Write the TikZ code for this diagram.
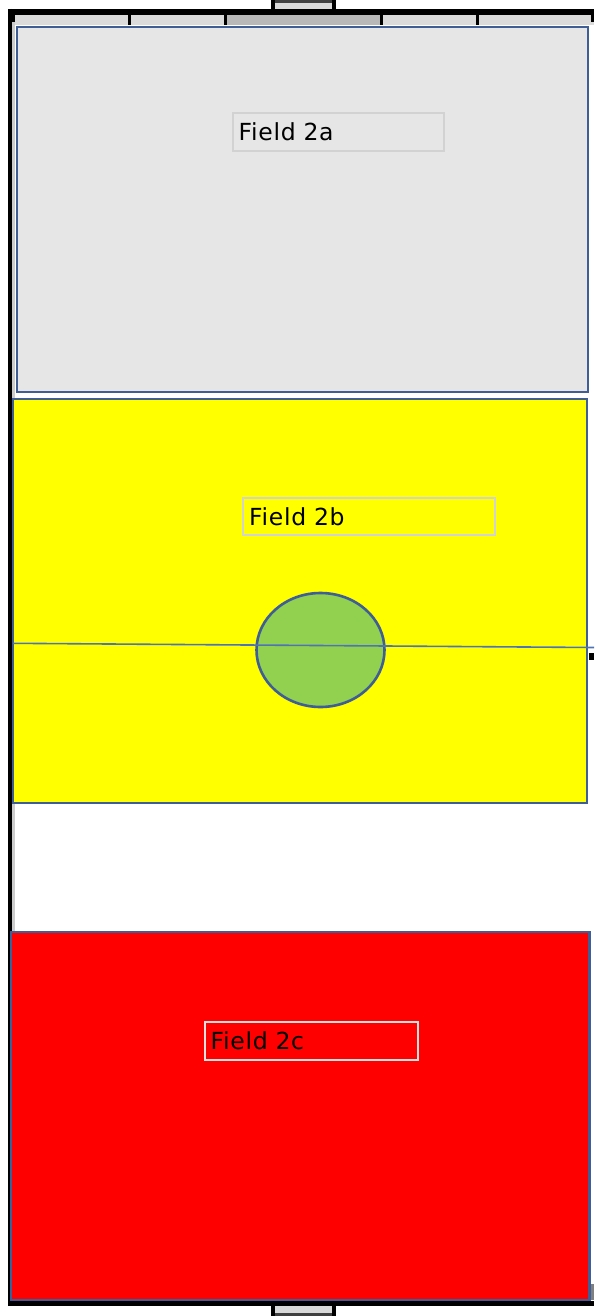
\documentclass[tikz,border=0pt]{standalone}
\usepackage{fontspec}
\setmainfont{DejaVu Sans}
\newfontfamily\labelfont[LetterSpace=3.0]{DejaVu Sans}

\definecolor{fieldblue}{HTML}{3F5E96}
\definecolor{fieldgray}{HTML}{E6E6E6}
\definecolor{fieldyellow}{HTML}{FFFF00}
\definecolor{fieldred}{HTML}{FF0000}
\definecolor{centergreen}{HTML}{92D050}
\definecolor{lineblue}{HTML}{4F74B5}
\definecolor{goalgray}{HTML}{D9D9D9}
\definecolor{labelgray}{HTML}{D2D2D2}

\tikzset{
  field/.style={draw=fieldblue, line width=2.6pt},
  labelbox/.style={line width=2.4pt, anchor=north west, inner xsep=6pt,
    minimum height=38pt, align=left, font=\labelfont\fontsize{23.5}{26}\selectfont},
  tick/.style={line width=3.5pt}
}

\begin{document}
\begin{tikzpicture}[x=1pt,y=-1pt]
			\useasboundingbox (0,0) rectangle (594,1316);
			
			% Goals
			\fill[goalgray] (273,0) rectangle (334,9);
			\fill[black!75] (273,0) rectangle (334,3);
			\draw[line width=3.5pt] (273,0) -- (273,10) (334,0) -- (334,10);
			\fill[goalgray] (273,1306) rectangle (334,1316);
			\fill[black!75] (273,1313) rectangle (334,1316);
			\draw[line width=3.5pt] (273,1304) -- (273,1316) (334,1304) -- (334,1316);
			
			% Side strips
			\fill[black!14] (11,15) rectangle (594,25);
			\fill[black!28] (227,15) rectangle (381,25);
			\fill[black!20] (11,15) rectangle (15,1300);
			
			% Outer frame
			\draw[line width=6pt] (8,12) -- (594,12);
			\draw[line width=5.5pt] (8,1303.5) -- (594,1303.5);
			\draw[line width=4pt] (9.5,9) -- (9.5,1306);
			
			% Tick marks
			\foreach \x in {129.5,225.5,381.5,477.5}
			\draw[tick] (\x,14) -- (\x,25);
			\draw[tick] (13,14) -- (13,22);
			\draw[tick] (592.5,14) -- (592.5,22);
			
			% Fields
			\draw[field, fill=fieldgray] (17,27) rectangle (588,392);
			\draw[field, fill=fieldyellow] (13,399) rectangle (587,803);
			\draw[field, fill=fieldred] (11,932) rectangle (589.5,1300);
			
			% Centre circle and halfway line
			\draw[field, fill=centergreen] (320.5,650) ellipse (64 and 57);
			\draw[lineblue, line width=1.6pt] (13,643.3) -- (594,647.5);
			\fill[black] (589,653) rectangle (594,660);
			\fill[black!50] (591,1284) rectangle (594,1300);
			
			% Labels
			\node[labelbox, draw=labelgray, text width=199pt] (lab2a) at (231.5,112) {Field 2a};
			\node[labelbox, draw=labelgray, text width=240pt, minimum height=37pt] (lab2b) at (242,497) {Field 2b};
			\node[labelbox, draw=black!12, text width=201pt] (lab2c) at (203.5,1021) {Field 2c};
		\end{tikzpicture}
\end{document}
